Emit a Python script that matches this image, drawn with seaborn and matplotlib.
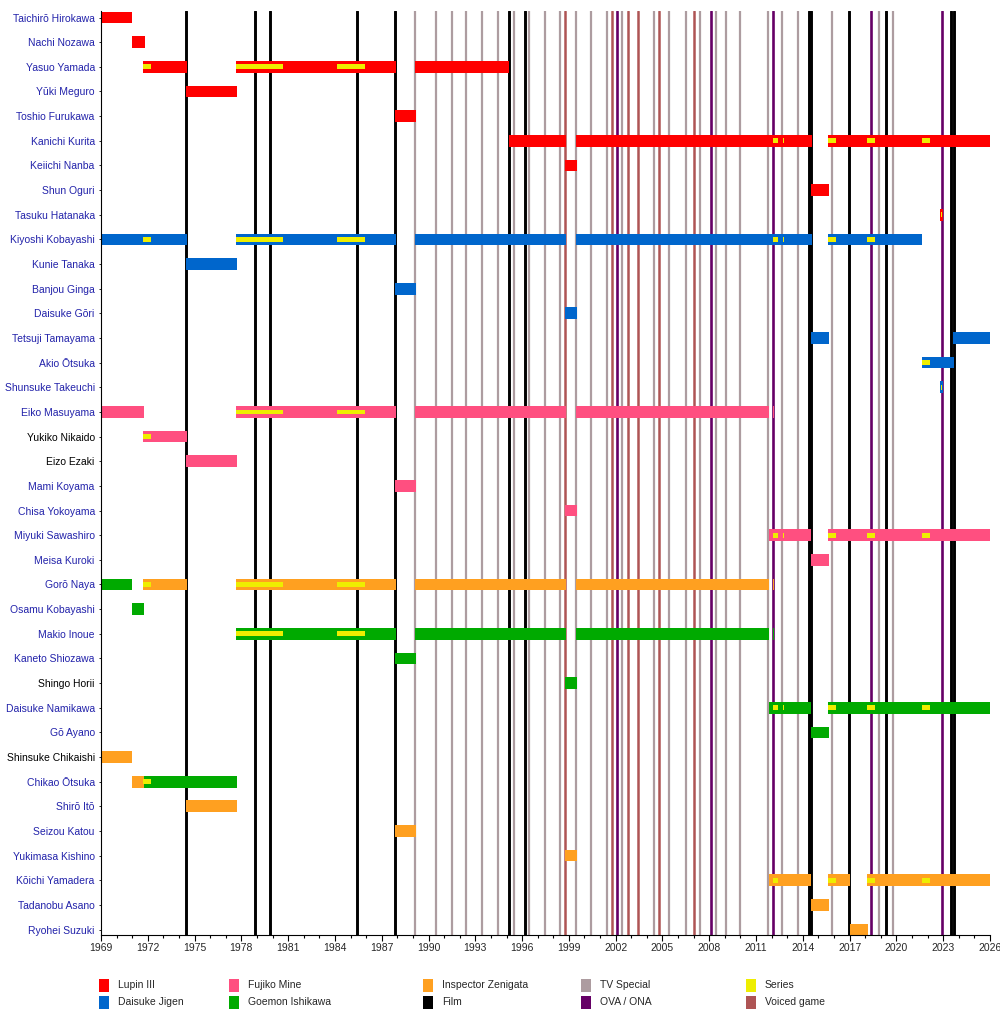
import seaborn as sns
import matplotlib.pyplot as plt
from matplotlib.patches import Rectangle
import pandas as pd

# cast in top-to-bottom order
actors = [
    "Taichirō Hirokawa", "Nachi Nozawa", "Yasuo Yamada", "Yūki Meguro", "Toshio Furukawa",
    "Kanichi Kurita", "Keiichi Nanba", "Shun Oguri", "Tasuku Hatanaka", "Kiyoshi Kobayashi",
    "Kunie Tanaka", "Banjou Ginga", "Daisuke Gōri", "Tetsuji Tamayama", "Akio Ōtsuka",
    "Shunsuke Takeuchi", "Eiko Masuyama", "Yukiko Nikaido", "Eizo Ezaki", "Mami Koyama",
    "Chisa Yokoyama", "Miyuki Sawashiro", "Meisa Kuroki", "Gorō Naya", "Osamu Kobayashi",
    "Makio Inoue", "Kaneto Shiozawa", "Shingo Horii", "Daisuke Namikawa", "Gō Ayano",
    "Shinsuke Chikaishi", "Chikao Ōtsuka", "Shirō Itō", "Seizou Katou", "Yukimasa Kishino",
    "Kōichi Yamadera", "Tadanobu Asano", "Ryohei Suzuki",
]
unlinked = ["Yukiko Nikaido", "Eizo Ezaki", "Shingo Horii", "Shinsuke Chikaishi"]

lupin_spans = [
    ("Taichirō Hirokawa", 1969.0, 1971.0),
    ("Nachi Nozawa", 1971.0, 1971.8),
    ("Yasuo Yamada", 1971.7, 1974.5), ("Yasuo Yamada", 1977.65, 1987.9), ("Yasuo Yamada", 1989.13, 1995.16),
    ("Yūki Meguro", 1974.45, 1977.7),
    ("Toshio Furukawa", 1987.85, 1989.2),
    ("Kanichi Kurita", 1995.16, 1998.8), ("Kanichi Kurita", 1999.48, 2014.6), ("Kanichi Kurita", 2015.6, 2026.0),
    ("Keiichi Nanba", 1998.75, 1999.55),
    ("Shun Oguri", 2014.5, 2015.7),
    ("Tasuku Hatanaka", 2022.8, 2023.0),
]
jigen_spans = [
    ("Kiyoshi Kobayashi", 1969.0, 1974.5), ("Kiyoshi Kobayashi", 1977.65, 1987.9),
    ("Kiyoshi Kobayashi", 1989.13, 1998.8), ("Kiyoshi Kobayashi", 1999.48, 2014.6),
    ("Kiyoshi Kobayashi", 2015.6, 2021.65),
    ("Kunie Tanaka", 1974.45, 1977.7),
    ("Banjou Ginga", 1987.85, 1989.2),
    ("Daisuke Gōri", 1998.75, 1999.55),
    ("Tetsuji Tamayama", 2014.5, 2015.7), ("Tetsuji Tamayama", 2023.65, 2026.0),
    ("Akio Ōtsuka", 2021.65, 2023.7),
    ("Shunsuke Takeuchi", 2022.8, 2023.0),
]
fujiko_spans = [
    ("Eiko Masuyama", 1969.0, 1971.75), ("Eiko Masuyama", 1977.65, 1987.9),
    ("Eiko Masuyama", 1989.13, 1998.8), ("Eiko Masuyama", 1999.48, 2011.8),
    ("Eiko Masuyama", 2012.08, 2012.14),
    ("Yukiko Nikaido", 1971.7, 1974.5),
    ("Eizo Ezaki", 1974.45, 1977.7),
    ("Mami Koyama", 1987.85, 1989.2),
    ("Chisa Yokoyama", 1998.75, 1999.55),
    ("Miyuki Sawashiro", 2011.8, 2014.55), ("Miyuki Sawashiro", 2015.6, 2026.0),
    ("Meisa Kuroki", 2014.5, 2015.7),
]
goemon_spans = [
    ("Gorō Naya", 1969.0, 1971.0),
    ("Osamu Kobayashi", 1971.0, 1971.75),
    ("Makio Inoue", 1977.65, 1987.9), ("Makio Inoue", 1989.13, 1998.8),
    ("Makio Inoue", 1999.48, 2011.8), ("Makio Inoue", 2012.08, 2012.14),
    ("Kaneto Shiozawa", 1987.85, 1989.2),
    ("Shingo Horii", 1998.75, 1999.55),
    ("Daisuke Namikawa", 2011.8, 2014.55), ("Daisuke Namikawa", 2015.6, 2026.0),
    ("Gō Ayano", 2014.5, 2015.7),
    ("Chikao Ōtsuka", 1971.75, 1977.7),
]
zenigata_spans = [
    ("Gorō Naya", 1971.7, 1974.5), ("Gorō Naya", 1977.65, 1987.9),
    ("Gorō Naya", 1989.13, 1998.8), ("Gorō Naya", 1999.48, 2011.8),
    ("Gorō Naya", 2012.08, 2012.14),
    ("Shinsuke Chikaishi", 1969.0, 1971.0),
    ("Chikao Ōtsuka", 1971.0, 1971.75),
    ("Shirō Itō", 1974.45, 1977.7),
    ("Seizou Katou", 1987.85, 1989.2),
    ("Yukimasa Kishino", 1998.75, 1999.5),
    ("Kōichi Yamadera", 2011.8, 2014.55), ("Kōichi Yamadera", 2015.6, 2017.0),
    ("Kōichi Yamadera", 2018.1, 2026.0),
    ("Tadanobu Asano", 2014.5, 2015.7),
    ("Ryohei Suzuki", 2017.0, 2018.2),
]

# TV series runs, drawn as thin stripes inside the bars
series_periods = [
    (1971.7, 1972.2), (1977.65, 1980.7), (1984.1, 1985.9), (2012.1, 2012.4),
    (2012.72, 2012.78), (2015.6, 2016.1), (2018.1, 2018.6), (2021.62, 2022.15),
    (2022.87, 2022.93),
]
series_cast = [
    ["Yasuo Yamada", "Kiyoshi Kobayashi", "Yukiko Nikaido", "Gorō Naya", "Chikao Ōtsuka"],
    ["Yasuo Yamada", "Kiyoshi Kobayashi", "Eiko Masuyama", "Gorō Naya", "Makio Inoue"],
    ["Yasuo Yamada", "Kiyoshi Kobayashi", "Eiko Masuyama", "Gorō Naya", "Makio Inoue"],
    ["Kanichi Kurita", "Kiyoshi Kobayashi", "Miyuki Sawashiro", "Daisuke Namikawa", "Kōichi Yamadera"],
    ["Kanichi Kurita", "Kiyoshi Kobayashi", "Miyuki Sawashiro", "Daisuke Namikawa"],
    ["Kanichi Kurita", "Kiyoshi Kobayashi", "Miyuki Sawashiro", "Daisuke Namikawa", "Kōichi Yamadera"],
    ["Kanichi Kurita", "Kiyoshi Kobayashi", "Miyuki Sawashiro", "Daisuke Namikawa", "Kōichi Yamadera"],
    ["Kanichi Kurita", "Miyuki Sawashiro", "Daisuke Namikawa", "Kōichi Yamadera", "Akio Ōtsuka"],
    ["Tasuku Hatanaka", "Shunsuke Takeuchi"],
]

# release dates drawn as vertical lines
film_years = [1974.45, 1978.9, 1979.84, 1985.43, 1987.87, 1995.18, 1996.2,
              2014.38, 2014.55, 2016.98, 2019.3, 2023.5, 2023.68]
tv_special_years = [1989.13, 1990.46, 1991.52, 1992.42, 1993.44, 1994.47, 1995.5,
                    1996.46, 1997.48, 1998.45, 1999.48, 2000.44, 2001.47, 2002.42,
                    2004.47, 2005.43, 2006.52, 2007.43, 2008.45, 2009.09, 2009.99,
                    2011.79, 2012.68, 2013.7, 2015.9, 2018.9, 2019.76]
ova_years = [2002.1, 2008.13, 2012.1, 2018.4, 2022.94]
game_years = [1998.77, 2001.79, 2002.8, 2003.44, 2004.79, 2007.04]

colors = {
    "Lupin III": "#ff0000", "Daisuke Jigen": "#0066cc", "Fujiko Mine": "#ff4f80",
    "Goemon Ishikawa": "#00aa00", "Inspector Zenigata": "#ffa020",
    "Film": "#000000", "TV Special": "#ad9ca0", "OVA / ONA": "#660066",
    "Series": "#eeee00", "Voiced game": "#ae5454",
}

sns.set_theme(style="white")
plt.rcParams['font.family'] = ['Liberation Sans', 'DejaVu Sans']

rows = []
for role, spans in [("Lupin III", lupin_spans), ("Daisuke Jigen", jigen_spans),
                    ("Fujiko Mine", fujiko_spans), ("Goemon Ishikawa", goemon_spans),
                    ("Inspector Zenigata", zenigata_spans)]:
    for actor, start, end in spans:
        rows.append({"actor": actor, "role": role, "start": start, "end": end})
bars = pd.DataFrame(rows)
bars["y"] = bars["actor"].map(actors.index)

stripes = pd.DataFrame([{"actor": a, "start": s, "end": e}
                        for (s, e), cast in zip(series_periods, series_cast) for a in cast])
stripes["y"] = stripes["actor"].map(actors.index)

fig = plt.figure(figsize=(10, 10.15), dpi=100)
ax = fig.add_axes([0.101, 1 - 935 / 1015, 0.889, 924 / 1015])

for yrs, key, lw in [(tv_special_years, "TV Special", 1.6), (game_years, "Voiced game", 1.8),
                     (ova_years, "OVA / ONA", 1.9), (film_years, "Film", 2.1)]:
    for yr in yrs:
        ax.axvline(yr, color=colors[key], lw=lw, zorder=1)

ax.barh(bars["y"], bars["end"] - bars["start"], left=bars["start"], height=0.475,
        color=bars["role"].map(colors), linewidth=0, zorder=2)
ax.barh(stripes["y"], stripes["end"] - stripes["start"], left=stripes["start"], height=0.19,
        color=colors["Series"], linewidth=0, zorder=3)

ax.set_xlim(1969, 2026)
ax.set_ylim(37.22, -0.264)
ax.set_xticks(range(1969, 2027, 3))
ax.set_xticks(range(1969, 2027), minor=True)
ax.set_yticks(range(len(actors)))
ax.set_yticklabels(actors)
for lab in ax.get_yticklabels():
    lab.set_color("#000000" if lab.get_text() in unlinked else "#2222aa")
ax.tick_params(axis="x", which="major", length=4, width=0.8, color="black",
               labelsize=7.5, pad=2, bottom=True)
ax.tick_params(axis="x", which="minor", length=2.5, width=0.8, color="black", bottom=True)
ax.tick_params(axis="y", length=1.5, width=0.6, color="black", labelsize=7.5, pad=3, left=True)
ax.grid(False)
sns.despine(ax=ax)
for side in ["left", "bottom"]:
    ax.spines[side].set_color("black")
    ax.spines[side].set_linewidth(0.8)

# legend, laid out in two rows of five like the original
legend_keys = ["Lupin III", "Daisuke Jigen", "Fujiko Mine", "Goemon Ishikawa",
               "Inspector Zenigata", "Film", "TV Special", "OVA / ONA", "Series", "Voiced game"]
col_x = [99, 229, 423, 581, 746]
row_y = [985, 1002]
W, H = 1000, 1015
for i, key in enumerate(legend_keys):
    cx, cy = col_x[i // 2], row_y[i % 2]
    fig.add_artist(Rectangle((cx / W, 1 - (cy + 6.5) / H), 10 / W, 13 / H,
                             transform=fig.transFigure, color=colors[key], lw=0))
    fig.text((cx + 19) / W, 1 - cy / H, key, fontsize=7.5, va="center", ha="left")

fig.savefig("out.png", dpi=100)
